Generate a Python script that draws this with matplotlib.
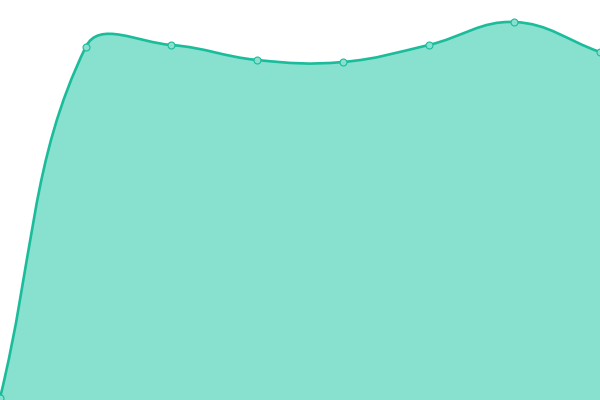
import matplotlib
matplotlib.use("Agg")
import matplotlib.pyplot as plt
import numpy as np
from matplotlib.path import Path
from matplotlib.patches import PathPatch

# values (axis runs 0..400)
categories = [0, 1, 2, 3, 4, 5, 6, 7]
values = [2, 353, 355, 340, 338, 355, 378, 348]

LINE = "#1abc9c"
FILL = "#88e0cf"
TENSION = 0.4


def spline_controls(pts, t):
    # Chart.js style cardinal spline, done in pixel space
    n = len(pts)
    cps = []
    for i in range(n):
        cur = pts[i]
        prev = pts[i - 1] if i > 0 else cur
        nxt = pts[i + 1] if i < n - 1 else cur
        d01 = np.hypot(*(cur - prev))
        d12 = np.hypot(*(nxt - cur))
        tot = d01 + d12
        s01 = d01 / tot if tot else 0
        s12 = d12 / tot if tot else 0
        cps.append((cur - t * s01 * (nxt - prev), cur + t * s12 * (nxt - prev)))
    return cps


fig = plt.figure(figsize=(6, 4), dpi=100)
ax = fig.add_axes([0, 0, 1, 1])
ax.set_xlim(0, 7)
ax.set_ylim(0, 400)
ax.axis("off")

data = np.column_stack([categories, values]).astype(float)
px = ax.transData.transform(data)
cps = spline_controls(px, TENSION)

verts = [px[0]]
codes = [Path.MOVETO]
for i in range(len(px) - 1):
    verts += [cps[i][1], cps[i + 1][0], px[i + 1]]
    codes += [Path.CURVE4] * 3
curve = ax.transData.inverted().transform(np.array(verts))

line_path = Path(curve, codes)
fill_verts = np.vstack([curve, [[categories[-1], 0], [categories[0], 0], curve[0]]])
fill_codes = codes + [Path.LINETO, Path.LINETO, Path.CLOSEPOLY]
ax.add_patch(PathPatch(Path(fill_verts, fill_codes), facecolor=FILL, edgecolor="none"))
ax.add_patch(PathPatch(line_path, facecolor="none", edgecolor=LINE, lw=1.9))

ax.plot(categories, values, "o", ms=5, mfc=FILL, mec=LINE, mew=0.8, clip_on=True)

fig.savefig("out.png", dpi=100)
